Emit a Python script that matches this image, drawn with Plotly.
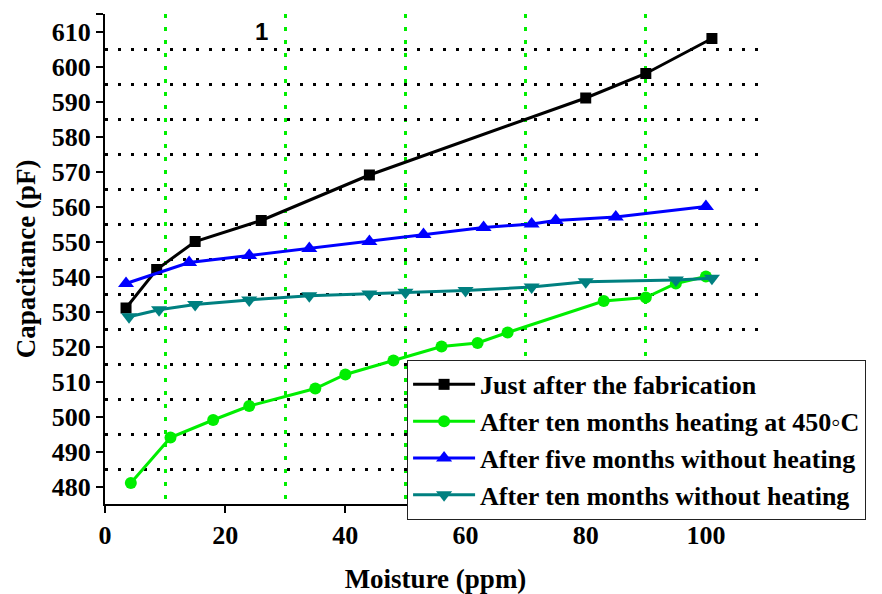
import plotly.graph_objects as go

# Moisture (ppm) and capacitance (pF) for each sensor condition
fab_x = [3.5, 8.6, 15, 26, 44, 80, 90, 101]
fab_y = [531, 542, 550, 556, 569, 591, 598, 608]

heat_x = [4.3, 10.9, 18, 24, 35, 40, 48, 56, 62, 67, 83, 90, 95, 100]
heat_y = [481, 494, 499, 503, 508, 512, 516, 520, 521, 524, 533, 534, 538, 540]

five_x = [3.5, 14, 24, 34, 44, 53, 63, 71, 75, 85, 100]
five_y = [538, 544, 546, 548, 550, 552, 554, 555, 556, 557, 560]

ten_x = [4, 9, 15, 24, 34, 44, 50, 60, 71, 80, 95, 101]
ten_y = [528.5, 530.5, 532, 533.3, 534.5, 535, 535.5, 536, 537, 538.5, 539, 539.5]

x_ticks = [0, 20, 40, 60, 80, 100, 110]
x_ticklabels = ["0", "20", "40", "60", "80", "100", ""]
y_ticks = list(range(480, 611, 10)) + [615]
y_ticklabels = [str(v) for v in range(480, 611, 10)] + [""]
x_minor = [10, 30, 50, 70, 90]
y_minor = list(range(485, 606, 10))

SERIF = "Liberation Serif"


def bold(labels):
    return [f"<b>{t}</b>" if t else "" for t in labels]


series = [
    ("Just after the fabrication", fab_x, fab_y, "#000000", "square", 11),
    ("After ten months heating at 450\u25e6C", heat_x, heat_y, "#00ee00", "circle", 12),
    ("After five months without heating", five_x, five_y, "#0000ff", "triangle-up", 14),
    ("After ten months without heating", ten_x, ten_y, "#008080", "triangle-down", 14),
]

fig = go.Figure()
for name, xs, ys, color, symbol, size in series:
    fig.add_trace(go.Scatter(
        x=xs, y=ys, name=f"<b>{name}</b>", mode="lines+markers",
        line=dict(color=color, width=3),
        marker=dict(symbol=symbol, size=size, color=color),
    ))

fig.add_annotation(
    x=26, y=610, xref="x", yref="y", text="<b>1</b>", showarrow=False,
    font=dict(family="Liberation Sans", size=24, color="black"),
)

fig.update_layout(
    width=882, height=594,
    margin=dict(l=105, r=116, t=14, b=90, autoexpand=False),
    paper_bgcolor="white", plot_bgcolor="white",
    font=dict(family=SERIF, color="black"),
    showlegend=True,
    legend=dict(
        x=0.457, y=0.294, xanchor="left", yanchor="top",
        bgcolor="white", bordercolor="#222222", borderwidth=1,
        font=dict(family=SERIF, size=26, color="black"),
        itemwidth=62, tracegroupgap=0,
    ),
)

fig.update_xaxes(
    range=[0, 110], showline=True, linecolor="black", linewidth=2,
    automargin=False,
    tickmode="array", tickvals=x_ticks, ticktext=bold(x_ticklabels),
    ticks="outside", ticklen=7, tickwidth=2, tickcolor="black",
    tickfont=dict(family=SERIF, size=26, color="black"),
    showgrid=False, zeroline=False,
    minor=dict(tickvals=x_minor, ticks="", showgrid=True,
               gridcolor="#00ee00", gridwidth=3, griddash="4px,9px"),
    title=dict(text="<b>Moisture (ppm)</b>", standoff=22,
               font=dict(family=SERIF, size=27, color="black")),
)

fig.update_yaxes(
    range=[475, 615], showline=True, linecolor="black", linewidth=2,
    automargin=False,
    tickmode="array", tickvals=y_ticks, ticktext=bold(y_ticklabels),
    ticks="outside", ticklen=7, tickwidth=2, tickcolor="black",
    tickfont=dict(family=SERIF, size=26, color="black"),
    showgrid=False, zeroline=False,
    minor=dict(tickvals=y_minor, ticks="", showgrid=True,
               gridcolor="black", gridwidth=3, griddash="3px,10px"),
    title=dict(text="<b>Capacitance (pF)</b>", standoff=8,
               font=dict(family=SERIF, size=27, color="black")),
)

fig.write_html("out.html")
